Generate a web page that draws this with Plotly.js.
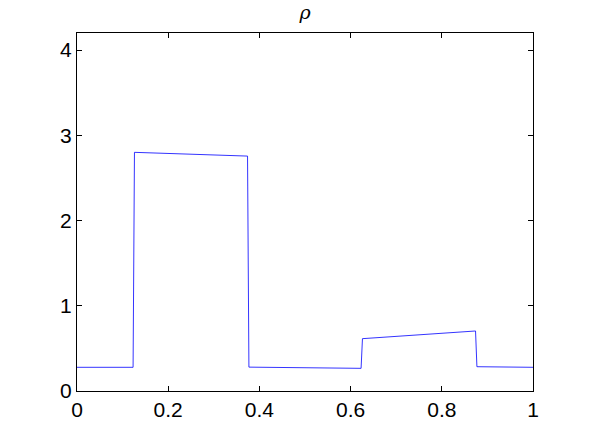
<!DOCTYPE html>
<html>
<head>
<meta charset="utf-8">
<script src="https://cdn.plot.ly/plotly-3.0.1.min.js"></script>
<style>
  html, body { margin: 0; padding: 0; background: #fff; }
  #plot { width: 589px; height: 441px; }
</style>
</head>
<body>
<div id="plot"></div>
<script>
// rho profile
const xVals = [0, 0.123, 0.126, 0.374, 0.377, 0.623, 0.626, 0.874, 0.877, 1];
const rhoVals = [0.278, 0.278, 2.80, 2.756, 0.28, 0.266, 0.614, 0.704, 0.285, 0.278];
const xTicks = [0, 0.2, 0.4, 0.6, 0.8, 1];
const xTickText = ["0", "0.2", "0.4", "0.6", "0.8", "1"];
const yTicks = [0, 1, 2, 3, 4];

var trace = {
  x: xVals,
  y: rhoVals,
  mode: "lines",
  type: "scatter",
  line: { color: "#0000ff", width: 0.8 },
  hoverinfo: "none",
};

var axisStyle = {
  showgrid: false,
  zeroline: false,
  showline: true,
  linecolor: "#000",
  linewidth: 1,
  mirror: "ticks",
  ticks: "inside",
  ticklen: 5,
  tickwidth: 1,
  tickcolor: "#000",
  tickfont: { family: "Liberation Sans, Arial, sans-serif", size: 21, color: "#000" },
};

var layout = {
  width: 589,
  height: 441,
  margin: { l: 77, r: 56, t: 33, b: 50 },
  paper_bgcolor: "#fff",
  plot_bgcolor: "#fff",
  showlegend: false,
  title: {
    text: "<i>ρ</i>",
    x: 0.5,
    xref: "paper",
    y: 0.972,
    yref: "container",
    yanchor: "middle",
    font: { family: "DejaVu Serif, serif", size: 19, color: "#000" },
  },
  xaxis: Object.assign({}, axisStyle, {
    range: [0, 1],
    tickvals: xTicks,
    ticktext: xTickText,
    ticklabelstandoff: 0,
  }),
  yaxis: Object.assign({}, axisStyle, {
    range: [0, 4.2],
    tickvals: yTicks,
    ticklabelstandoff: 0,
  }),
};

Plotly.newPlot("plot", [trace], layout, { staticPlot: true });
</script>
</body>
</html>
